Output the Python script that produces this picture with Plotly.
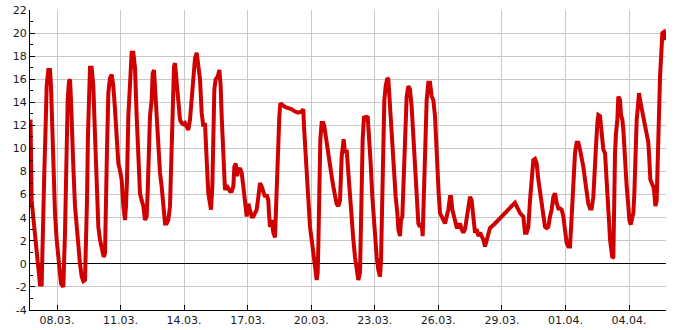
import pandas as pd
import plotly.graph_objects as go

start = pd.Timestamp("2024-03-06 18:00")

hours = [
    0.0, 0.5, 1.30, 3.19, 5.08, 6.97, 8.86, 10.74, 12.63, 13.39, 14.52, 15.65, 17.16, 18.30, 20.18,
    22.07, 23.20, 23.96, 25.09, 26.60, 27.74, 29.62, 31.51, 32.64, 34.53, 37.18, 38.31, 39.07,
    39.82, 40.95, 42.09, 43.60, 44.73, 45.86, 46.62, 48.51, 50.39, 52.28, 54.17, 56.06, 57.95,
    59.83, 61.72, 62.85, 63.99, 65.12, 66.26, 67.39, 69.28, 71.16, 72.30, 73.81, 75.32, 76.83,
    78.72, 80.60, 82.87, 84.38, 85.51, 86.65, 88.16, 90.05, 91.93, 93.82, 95.71, 97.60, 99.49,
    101.37, 103.26, 105.15, 107.04, 108.17, 109.30, 110.82, 112.70, 114.59, 116.48,
    118.37, 120.26, 122.14, 124.03, 125.92, 127.81, 129.70, 131.58, 132.72, 134.23, 135.36,
    137.25, 138.38, 139.89, 141.78, 142.91, 144.05, 144.80, 146.69, 148.58, 150.47, 152.36,
    154.24, 156.13, 158.02, 159.91, 161.04, 162.55, 163.69, 165.57, 167.46, 169.35, 171.24,
    173.13, 175.01, 176.90, 178.79, 180.68, 182.57, 184.45, 186.34, 188.23, 190.12, 192.01,
    193.90, 195.78, 197.67, 198.80, 199.94, 201.45, 203.34, 204.47, 205.98, 207.11, 208.25,
    209.76, 212.02, 213.91, 215.42, 216.55, 217.68, 218.82, 220.33, 222.22, 224.11, 225.99,
    227.88, 229.77, 230.90, 232.41, 233.93, 235.44, 237.33, 239.21, 241.10, 242.99, 244.88,
    246.77, 248.64, 250.53, 252.42, 254.31, 256.20, 258.09, 259.97, 261.86, 263.75, 265.64,
    267.53, 269.41, 270.17, 271.30, 273.19, 275.08, 276.97, 278.10, 279.23, 280.74, 281.88,
    283.01, 284.52, 288.30, 292.07, 295.85, 299.62, 303.40, 307.18, 309.07, 309.82, 310.95,
    312.09, 313.60, 314.73, 316.62, 318.51, 320.39, 322.28, 324.17, 325.30, 326.06, 327.19,
    328.32, 329.83, 331.72, 332.86, 334.37, 335.50, 337.39, 339.28, 341.16, 343.05, 344.94,
    346.83, 348.72, 350.61, 352.49, 353.63, 354.76, 356.27, 358.16, 360.05, 361.93, 363.82,
    365.71, 367.60, 369.49, 371.38, 373.26, 374.02, 375.15, 376.29, 377.80, 379.68, 381.95,
    383.46, 385.35, 387.24, 388.75, 390.26, 392.15, 394.03, 395.92, 397.06, 398.57, 399.70,
    400.83, 402.34, 404.23, 405.36, 406.50, 408.01, 409.90, 411.78, 413.67, 415.56, 416.69,
    418.58, 419.71, 421.22, 422.73, 424.24, 426.13, 428.02, 429.91, 431.80, 433.69, 435.57,
    437.46, 439.35, 441.24, 443.13, 444.26, 445.77, 447.28, 448.79, 450.68, 452.57, 454.45,
    456.34, 458.23, 459.36, 460.87, 462.39, 463.90, 465.78, 467.67, 469.56, 471.45, 473.34,
    475.22, 476.36, 477.87, 479.38, 480.89, 482.78, 484.67, 486.55, 488.44, 490.33, 492.22,
    494.11, 496.00, 497.88, 499.77, 501.66, 503.55, 505.44, 507.33, 509.21, 511.10, 512.99,
    514.88, 516.77, 518.65, 520.54, 526.21, 533.76, 541.31, 548.86, 550.75, 554.53, 558.30,
    560.19, 562.08, 563.97, 565.86, 567.75, 569.63, 571.52, 573.41, 575.30, 577.19, 579.07,
    580.96, 582.85, 584.74, 586.63, 588.51, 590.40, 592.29, 594.18, 596.07, 597.96, 599.84,
    601.73, 603.62, 605.51, 607.40, 609.29, 611.17, 613.07, 614.96, 616.84, 618.73, 620.62,
    622.51, 624.40, 626.29, 628.17, 630.06, 631.95, 633.84, 635.73, 637.61, 639.50, 640.63,
    642.14, 643.28, 645.17, 646.30, 647.81, 648.94, 650.83, 651.96, 653.47, 654.61, 655.74,
    656.50, 657.63, 659.14, 660.27, 661.03, 662.16, 663.29, 664.80, 665.94, 667.82, 668.96,
    670.47, 671.60, 672.73, 674.24, 675.38, 677.27, 678.40, 679.91, 681.04, 682.93, 684.06,
    685.20, 686.71, 687.84, 689.35, 690.48, 692.37, 694.26, 696.15, 698.03, 699.92, 701.06,
    702.19, 703.70, 705.59, 706.72, 707.85, 709.36, 710.50, 711.63, 713.14, 714.65, 715.78,
    717.67, 719.18, 719.94,
]

temps = [
    12.5, 8.0, 5.5, 4.0, 2.5, 0.5, -1.0, -1.8, -1.8, 0.0, 2.7, 8.0, 12.0, 15.4, 16.8,
    16.8, 15.4, 13.4, 10.0, 6.7, 4.4, 2.1, 0.3, -0.8, -1.7, -2.0, -0.2, 2.7,
    5.5, 10.0, 14.2, 15.8, 16.0, 14.2, 11.9, 8.4, 5.0, 3.0, 1.5, 0.0, -1.1,
    -1.5, -1.4, 1.0, 5.5, 11.3, 16.2, 17.0, 17.0, 15.4, 12.8, 9.0, 5.5, 3.2,
    2.1, 1.2, 0.6, 0.9, 4.1, 9.9, 14.8, 16.1, 16.4, 15.4, 13.4, 10.8, 8.7,
    8.1, 7.3, 5.0, 3.8, 5.0, 7.3, 12.8, 16.2, 18.3, 18.3,
    17.0, 12.8, 8.4, 6.1, 5.5, 5.0, 3.8, 4.1, 6.2, 9.9, 12.8,
    14.2, 16.5, 16.8, 14.2, 13.9, 11.9, 9.9, 7.9, 6.7, 5.0, 3.5,
    3.5, 3.8, 5.0, 9.9, 13.6, 17.1, 17.4, 15.7, 13.6, 12.5, 12.2,
    12.1, 12.2, 11.9, 11.6, 12.5, 14.4, 16.8, 17.8, 18.3, 17.4, 16.0,
    13.1, 11.9, 12.2, 10.8, 8.4, 6.1, 5.0, 4.7, 6.7, 11.3, 15.1,
    16.0, 16.2, 16.8, 15.4, 12.8, 10.2, 8.4, 6.4, 6.8, 6.5, 6.3,
    6.3, 6.7, 8.4, 8.7, 7.6, 8.1, 8.3, 7.9, 6.7, 5.5, 4.1,
    5.2, 4.5, 4.1, 4.1, 4.5, 4.7, 5.8, 7.0, 6.7, 6.1, 5.8,
    6.0, 5.5, 4.4, 3.2, 3.8, 2.7, 2.3, 5.0, 7.0, 10.2, 12.8,
    13.9, 13.8, 13.6, 13.5, 13.4, 13.2, 13.1, 13.2, 13.4, 11.9, 10.5,
    8.4, 6.4, 5.0, 3.2, 2.1, 0.6, -0.2, -1.4, -0.8, 1.5, 6.1,
    10.8, 12.2, 12.2, 11.9, 11.0, 10.5, 9.3, 8.1, 7.6, 6.7, 6.1,
    5.2, 5.0, 5.5, 9.3, 10.2, 10.8, 9.6, 9.9, 7.9, 5.5, 3.8,
    2.1, 0.6, -0.5, -1.4, -0.8, 2.7, 7.0, 10.8, 12.8, 12.6, 12.8,
    11.3, 8.7, 5.8, 4.1, 2.1, 0.6, -0.5, -1.1, 0.3, 6.1, 11.3,
    14.2, 15.4, 16.1, 16.0, 14.5, 11.9, 9.6, 7.9, 5.8, 4.4, 3.0,
    2.4, 3.8, 4.1, 7.9, 12.2, 14.5, 15.4, 15.1, 13.6, 10.8, 8.1,
    5.5, 3.5, 3.2, 3.5, 2.4, 6.1, 11.3, 14.2, 15.7, 15.7, 14.5,
    14.2, 12.8, 10.5, 9.0, 6.1, 4.4, 4.1, 3.8, 3.5, 4.1, 4.7,
    5.8, 5.8, 4.7, 4.1, 3.5, 3.2, 3.2, 3.5, 3.0, 2.7, 3.0,
    4.1, 4.7, 5.8, 5.5, 4.1, 2.7, 3.0, 2.4, 2.7, 2.4, 2.1,
    1.5, 2.1, 2.8, 3.1, 3.5, 4.1, 4.7, 5.3, 5.0, 4.4, 4.1,
    2.7, 2.7, 3.2, 5.5, 7.6, 9.0, 9.1, 8.7, 7.3, 6.1, 5.0,
    3.8, 3.2, 3.1, 3.2, 4.1, 4.7, 5.8, 6.1, 5.3, 4.8, 4.8,
    4.7, 4.1, 2.7, 1.8, 1.5, 1.5, 4.1, 7.6, 9.6, 10.5, 10.5,
    9.9, 9.3, 8.4, 7.3, 5.8, 5.2, 4.8, 4.8, 5.8, 7.9, 10.2,
    12.2, 12.9, 12.8, 11.6, 10.8, 9.9, 9.6, 8.4, 6.4, 5.0, 3.2,
    2.1, 0.9, 0.5, 0.6, 5.3, 9.6, 11.3, 12.5, 14.5, 14.2, 12.9,
    12.5, 11.6, 9.6, 8.4, 6.7, 5.0, 3.8, 3.4, 3.8, 4.4, 6.1,
    9.3, 12.5, 13.4, 14.8, 14.2, 13.4, 12.8, 11.9, 11.3, 10.5, 9.0,
    7.3, 7.0, 6.7, 6.1, 5.0, 5.5, 9.9, 13.4, 16.2, 18.3, 20.0,
    20.1, 19.7, 19.4,
]

x_tick_dates = ["2024-03-08", "2024-03-11", "2024-03-14", "2024-03-17", "2024-03-20",
                "2024-03-23", "2024-03-26", "2024-03-29", "2024-04-01", "2024-04-04"]
x_tick_labels = ["08.03.", "11.03.", "14.03.", "17.03.", "20.03.",
                 "23.03.", "26.03.", "29.03.", "01.04.", "04.04."]
y_tick_vals = [-4, -2, 0, 2, 4, 6, 8, 10, 12, 14, 16, 18, 20, 22]
y_tick_labels = ["-4", "-2", "0", "2", "4", "6", "8", "10", "12", "14", "16", "18", "20", "22"]

times = start + pd.to_timedelta(hours, unit="h")

fig = go.Figure()
fig.add_trace(go.Scatter(
    x=times, y=temps, mode="lines",
    line=dict(color="#d00000", width=4),
    hoverinfo="skip", showlegend=False,
))

fig.update_layout(
    template="none",
    width=685, height=330,
    margin=dict(l=30, r=19, t=10, b=20, autoexpand=False),
    paper_bgcolor="white", plot_bgcolor="white",
    font=dict(family="DejaVu Sans", size=11, color="#1a1a1a"),
    showlegend=False,
)
fig.update_xaxes(
    automargin=False,
    range=["2024-03-06 17:25", "2024-04-05 17:55"],
    tickmode="array", tickvals=x_tick_dates, ticktext=x_tick_labels,
    showgrid=True, gridcolor="#c8c8c8", gridwidth=1,
    showline=True, linecolor="black", linewidth=1,
    ticks="inside", ticklen=5, tickcolor="black", tickwidth=1,
    zeroline=False,
)
fig.update_yaxes(
    automargin=False,
    range=[-4, 22],
    tickmode="array", tickvals=y_tick_vals, ticktext=y_tick_labels,
    showgrid=True, gridcolor="#c8c8c8", gridwidth=1,
    showline=True, linecolor="black", linewidth=1,
    ticks="inside", ticklen=5, tickcolor="black", tickwidth=1,
    minor=dict(ticks="inside", ticklen=3, dtick=1, tick0=0, tickcolor="black", tickwidth=1, showgrid=False),
    zeroline=True, zerolinecolor="black", zerolinewidth=1,
)

fig.write_html("out.html")
